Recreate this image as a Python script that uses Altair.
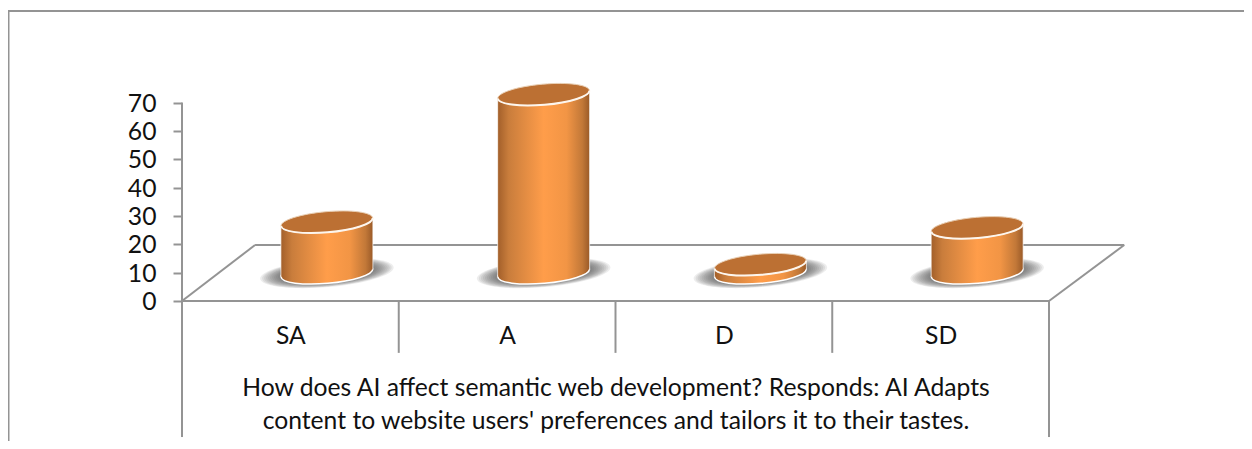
import altair as alt
import pandas as pd

categories = ["SA", "A", "D", "SD"]
values = [18, 63, 3, 16]
y_ticks = [0, 10, 20, 30, 40, 50, 60, 70]
title_lines = ["How does AI affect semantic web development? Responds: AI Adapts",
               "content to website users' preferences and tailors it to their tastes."]

# 3D frame, expressed in axis units (categories across, value units up)
shear = 0.337      # floor depth, in categories
depth = 19.76      # floor depth, in value units
half_w = 0.2122    # cylinder half width, in categories
tilt = 1.3         # slope of cylinder sides, in value units
GRAY = "#949494"
FONT = "Lato"
FS = 24.7

X_DOM = [-0.8028, 4.8997]
Y_DOM = [-49.4, 103.4]
x_s = alt.Scale(domain=X_DOM, nice=False, zero=False)
y_s = alt.Scale(domain=Y_DOM, nice=False, zero=False)

ELL = "M-0.9962,0.0872A1,0.225,-5,1,0,0.9962,-0.0872A1,0.225,-5,1,0,-0.9962,0.0872Z"
ARC = "M-0.9962,0.0872A1,0.225,-5,0,0,0.9962,-0.0872"
SHADOW = "M-0.9962,0.0872A1,0.21,-5,1,0,0.9962,-0.0872A1,0.21,-5,1,0,-0.9962,0.0872Z"
ELL_SIZE = 92 ** 2
shadow_spans = [134, 130, 126, 122, 118, 114, 110, 106, 102, 98]

grad = alt.Gradient(gradient="linear", x1=0, x2=1, y1=0, y2=0, stops=[
    alt.GradientStop(offset=0, color="#a25f2a"),
    alt.GradientStop(offset=0.12, color="#c97d3c"),
    alt.GradientStop(offset=0.5, color="#ff9d4a"),
    alt.GradientStop(offset=0.75, color="#f29545"),
    alt.GradientStop(offset=0.92, color="#c27838"),
    alt.GradientStop(offset=1, color="#9a5a28"),
])

centers = pd.DataFrame({
    "cat": categories,
    "x": [i + 0.5 + shear / 2 for i in range(4)],
    "base": [depth / 2] * 4,
    "top": [v + depth / 2 for v in values],
})
sides = pd.DataFrame(
    [{"cat": c, "x": i + 0.5 + shear / 2 + s * half_w,
      "y": v + depth / 2 + s * tilt, "y0": depth / 2 + s * tilt}
     for i, (c, v) in enumerate(zip(categories, values)) for s in (-1, 1)])
shadows = pd.DataFrame(
    [{"x": i + 0.5 + shear / 2, "base": depth / 2, "size": sp ** 2}
     for i in range(4) for sp in shadow_spans])

n = len(categories)
floor = pd.DataFrame({
    "seg": ["front", "front", "back", "back", "left", "left", "right", "right"],
    "x": [0, n, shear, n + shear * 1.03, 0, shear, n, n + shear * 1.03],
    "y": [0, 0, depth, depth, 0, depth, 0, depth],
})
short_sep = pd.DataFrame({"x": [1, 2, 3], "y": [0, 0, 0], "y2": [-18.3] * 3})
long_sep = pd.DataFrame({"x": [0, n], "y": [0, 0], "y2": [-48.0] * 2})
value_axis = pd.DataFrame({"x": [0], "y": [0], "y2": [y_ticks[-1]]})

X_AX = alt.X("x:Q", scale=x_s)
Y_AX = alt.Y("y:Q", scale=y_s)
Y_BASE = alt.Y("base:Q", scale=y_s)
Y_TOP = alt.Y("top:Q", scale=y_s)

axes = alt.Chart(value_axis).mark_rule(color=GRAY, strokeWidth=2).encode(
    x=alt.X("x:Q", scale=x_s, axis=alt.Axis(
        values=[0.5, 1.5, 2.5, 3.5], labelExpr="['SA','A','D','SD'][floor(datum.value)]",
        orient="bottom", offset=-140, domain=False, ticks=False, grid=False,
        labelFont=FONT, labelFontSize=FS, labelColor="#111", labelPadding=22, labelAngle=0,
        title=title_lines, titleFont=FONT, titleFontSize=FS, titleFontWeight="normal",
        titleColor="#111", titleLineHeight=33, titleX=607.5, titleY=94, titleAlign="center",
        titleBaseline="alphabetic")),
    y=alt.Y("y:Q", scale=y_s, axis=alt.Axis(
        values=y_ticks, orient="left", offset=-174, domain=False, grid=False,
        tickColor=GRAY, tickWidth=2, tickSize=9,
        labelFont=FONT, labelFontSize=FS, labelColor="#111", labelPadding=17, labelOffset=1.5, title="")),
    y2="y2:Q",
)
floor_lines = alt.Chart(floor).mark_line(color=GRAY, strokeWidth=2).encode(
    x=X_AX, y=Y_AX, detail="seg:N")
short_rules = alt.Chart(short_sep).mark_rule(color=GRAY, strokeWidth=2).encode(x=X_AX, y=Y_AX, y2="y2:Q")
long_rules = alt.Chart(long_sep).mark_rule(color=GRAY, strokeWidth=2).encode(x=X_AX, y=Y_AX, y2="y2:Q")

border_top = alt.Chart(pd.DataFrame({"a": [0]})).mark_rule(color=GRAY, strokeWidth=2).encode(
    x=alt.value(0), x2=alt.value(1236), y=alt.value(3))
border_left = alt.Chart(pd.DataFrame({"a": [0]})).mark_rule(color=GRAY, strokeWidth=2).encode(
    x=alt.value(0.5), y=alt.value(3), y2=alt.value(433))

shadow_layer = alt.Chart(shadows).mark_point(
    shape=SHADOW, filled=True, color="#4a4a4a", opacity=0.1, strokeWidth=0).encode(
    x=X_AX, y=Y_BASE, size=alt.Size("size:Q", scale=None, legend=None))
base_layer = alt.Chart(centers).mark_point(
    shape=ELL, filled=True, size=ELL_SIZE, fill=grad, stroke="white", strokeWidth=1.5, opacity=1).encode(
    x=X_AX, y=Y_BASE)
body_layer = alt.Chart(sides).mark_area(color=grad, interpolate="linear").encode(
    x=X_AX, y=Y_AX, y2="y0:Q", detail="cat:N")
edge_layer = alt.Chart(sides).mark_rule(color="#ffffff", strokeWidth=1, opacity=0.7).encode(
    x=X_AX, y=Y_AX, y2="y0:Q")
top_layer = alt.Chart(centers).mark_point(
    shape=ELL, filled=True, size=ELL_SIZE, fill="#bc7033", stroke="#e9cfb4", strokeWidth=1, opacity=1).encode(
    x=X_AX, y=Y_TOP)
top_arc = alt.Chart(centers).mark_point(
    shape=ARC, filled=False, size=ELL_SIZE, stroke="#fdf6ee", strokeWidth=2, opacity=1).encode(
    x=X_AX, y=Y_TOP)

chart = alt.layer(
    axes, border_top, border_left, floor_lines, short_rules, long_rules,
    shadow_layer, base_layer, body_layer, edge_layer, top_layer, top_arc,
).properties(
    width=1236, height=433, padding=0, autosize=alt.AutoSizeParams(type="none"),
    background="white",
).configure_view(stroke=None)

chart.save("out.html", embed_options={"renderer": "svg", "actions": False})
